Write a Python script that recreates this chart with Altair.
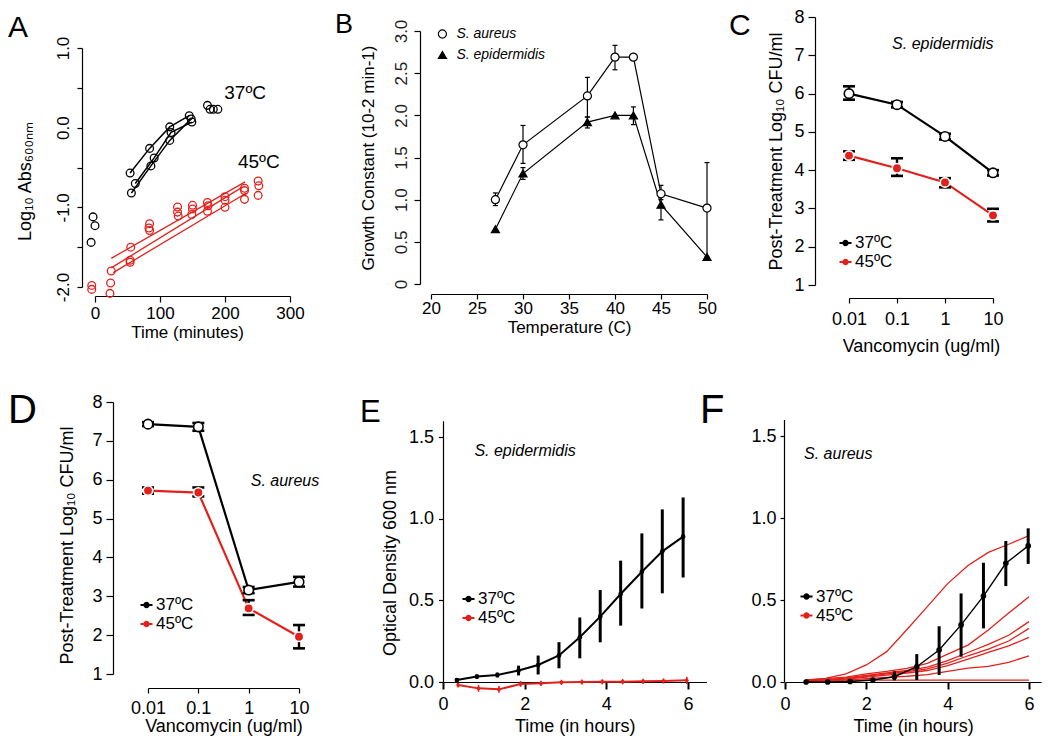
import altair as alt
import pandas as pd

FONT = "Liberation Sans"
RED = "#e3211c"

# ---------------- Panel A data ----------------
a37_rep = ["r1", "r1", "r1", "r1", "r2", "r2", "r2", "r2", "r3", "r3", "r3", "r3"]
a37_time = [54, 84, 115, 145, 62, 91, 117, 149, 56, 86, 115, 148]
a37_val = [-0.57, -0.26, 0.01, 0.15, -0.70, -0.38, -0.06, 0.07, -0.82, -0.48, -0.16, 0.11]
a37_other_time = [-3, 0, -6, 173, 177, 182, 189]
a37_other_val = [-1.12, -1.23, -1.44, 0.28, 0.23, 0.23, 0.23]
a45_time = [-5, -5, 23, 24, 25, 55, 54, 54, 84, 83, 84, 127, 127, 128, 150, 150, 149,
            173, 174, 173, 200, 200, 200, 230, 230, 230, 251, 252, 251]
a45_val = [-1.98, -2.03, -2.08, -1.95, -1.80, -1.50, -1.665, -1.69, -1.205, -1.26, -1.29,
           -0.996, -1.06, -1.11, -0.975, -1.02, -1.09, -0.94, -0.98, -1.05, -0.866, -0.91,
           -1.0, -0.76, -0.79, -0.9, -0.67, -0.73, -0.85]
a45_fit_rep = ["f1", "f1", "f2", "f2", "f3", "f3"]
a45_fit_time = [25, 231, 25, 226, 28, 233]
a45_fit_val = [-1.64, -0.68, -1.76, -0.75, -1.82, -0.82]
a_label_text = ["37ºC", "45ºC"]
a_label_time = [231, 252]
a_label_val = [0.43, -0.43]

# ---------------- Panel B data ----------------
b_species = ["S. aureus", "S. epidermidis"]
b_temp = [27, 30, 37, 40, 42, 45, 50]
b_aur = [1.0, 1.65, 2.23, 2.69, 2.69, 1.07, 0.90]
b_aur_lo = [0.93, 1.43, 1.98, 2.54, 2.69, 1.00, 0.28]
b_aur_hi = [1.08, 1.88, 2.45, 2.83, 2.69, 1.17, 1.44]
b_epi = [0.65, 1.31, 1.92, 2.0, 2.0, 0.94, 0.32]
b_epi_lo = [0.65, 1.24, 1.85, 2.0, 1.89, 0.76, 0.28]
b_epi_hi = [0.65, 1.38, 1.98, 2.0, 2.10, 1.04, 0.32]

# ---------------- Panels C / D data ----------------
temps = ["37ºC", "45ºC"]
vanco = [0.01, 0.1, 1, 10]
c37 = [6.0, 5.71, 4.88, 3.93]
c37_lo = [5.84, 5.64, 4.80, 3.86]
c37_hi = [6.19, 5.78, 4.95, 4.00]
c45 = [4.38, 4.05, 3.68, 2.82]
c45_lo = [4.27, 3.85, 3.55, 2.66]
c45_hi = [4.49, 4.31, 3.79, 2.99]
d37 = [7.43, 7.36, 3.16, 3.37]
d37_lo = [7.38, 7.26, 3.08, 3.25]
d37_hi = [7.48, 7.46, 3.24, 3.50]
d45 = [5.72, 5.67, 2.69, 1.96]
d45_lo = [5.64, 5.57, 2.52, 1.66]
d45_hi = [5.80, 5.80, 2.90, 2.26]

# ---------------- Panel E data ----------------
e37_t = [0.34, 0.83, 1.33, 1.85, 2.33, 2.84, 3.35, 3.85, 4.35, 4.87, 5.37, 5.88]
e37_v = [0.012, 0.033, 0.043, 0.07, 0.104, 0.163, 0.274, 0.40, 0.539, 0.675, 0.80, 0.89]
e37_lo = [0.0, 0.02, 0.028, 0.04, 0.046, 0.084, 0.145, 0.243, 0.345, 0.45, 0.543, 0.64]
e37_hi = [0.024, 0.046, 0.058, 0.10, 0.162, 0.244, 0.395, 0.563, 0.743, 0.91, 1.057, 1.13]
e45_t = [0.37, 0.87, 1.37, 1.9, 2.4, 2.9, 3.4, 3.9, 4.4, 4.9, 5.4, 5.97]
e45_v = [-0.018, -0.039, -0.045, -0.012, -0.008, -0.002, 0.0, 0.001, 0.002, 0.004, 0.006, 0.01]
e45_lo = [-0.034, -0.06, -0.066, -0.03, -0.024, -0.018, -0.016, -0.015, -0.014, -0.012, -0.01, -0.012]
e45_hi = [-0.004, -0.018, -0.024, 0.006, 0.008, 0.014, 0.016, 0.017, 0.018, 0.02, 0.022, 0.032]

# ---------------- Panel F data ----------------
f37_t = [0.52, 1.05, 1.6, 2.16, 2.69, 3.24, 3.79, 4.33, 4.88, 5.43, 5.98]
f37_v = [0.0, 0.0, 0.003, 0.012, 0.032, 0.093, 0.195, 0.348, 0.524, 0.724, 0.83]
f37_lo = [-0.005, -0.005, -0.004, 0.0, 0.01, 0.012, 0.043, 0.154, 0.327, 0.585, 0.72]
f37_hi = [0.005, 0.005, 0.01, 0.025, 0.065, 0.17, 0.34, 0.54, 0.727, 0.86, 0.937]
f45_t = [0.5, 1.0, 1.5, 2.0, 2.5, 3.0, 3.5, 4.0, 4.5, 5.0, 5.5, 6.0]
f45_r1 = [0.012, 0.022, 0.049, 0.104, 0.185, 0.32, 0.46, 0.60, 0.71, 0.79, 0.84, 0.892]
f45_r2 = [0.012, 0.02, 0.03, 0.05, 0.065, 0.083, 0.114, 0.17, 0.225, 0.317, 0.42, 0.52]
f45_r3 = [0.01, 0.015, 0.025, 0.04, 0.055, 0.07, 0.09, 0.13, 0.18, 0.23, 0.285, 0.368]
f45_r4 = [0.008, 0.012, 0.02, 0.035, 0.05, 0.063, 0.08, 0.115, 0.16, 0.2, 0.25, 0.327]
f45_r5 = [0.005, 0.01, 0.018, 0.03, 0.042, 0.055, 0.07, 0.1, 0.14, 0.18, 0.22, 0.272]
f45_r6 = [0.005, 0.008, 0.012, 0.02, 0.028, 0.035, 0.045, 0.065, 0.085, 0.095, 0.12, 0.16]
f45_r7 = [0.012, 0.012, 0.012, 0.012, 0.012, 0.012, 0.012, 0.012, 0.012, 0.012, 0.012, 0.012]

notes_text = ["S. epidermidis", "S. aureus", "S. epidermidis", "S. aureus"]
notes_x = [0.9, 5.27, 2.01, 1.31]
notes_y = [7.3, 5.97, 1.416, 1.39]

# every panel cell has the same size; axes are placed with scale ranges and offsets
CELL_W, CELL_H = 258, 288
NOVIEW = alt.ViewBackground(stroke=None, strokeWidth=0, fill=None)


# ---------------- helpers ----------------
def axis(title, values, **kw):
    d = dict(title=title, values=values, grid=False, domainColor="black", domainWidth=1.2,
             tickColor="black", tickWidth=1.2, labelColor="black", titleColor="black",
             labelFont=FONT, titleFont=FONT, labelFontSize=17, titleFontSize=17,
             titleFontWeight="normal", labelFlush=False, labelOverlap=False, minExtent=0,
             offset=0)
    d.update(kw)
    return alt.Axis(**d)


def yaxis_left(title, values, **kw):
    base = dict(titleAngle=270, titleBaseline="bottom", titleAlign="center")
    base.update(kw)
    return axis(title, values, **base)


def letter(t, dx, baseline_y, size):
    # a top title is lifted by its own height, so dy adds that height back
    return alt.TitleParams(t, anchor="start", frame="group", orient="top", font=FONT,
                           fontSize=size, fontWeight="normal", color="black", offset=0,
                           dx=dx, dy=baseline_y + size, baseline="alphabetic")


SYM = ("M-1,0L1,0M-0.36,0A0.36,0.36,0,1,0,0.36,0A0.36,0.36,0,1,0,-0.36,0"
       "M-0.15,0A0.15,0.15,0,1,0,0.15,0A0.15,0.15,0,1,0,-0.15,0")


def tlegend(lx, ly):
    return alt.Legend(title=None, orient="none", legendX=lx, legendY=ly, direction="vertical",
                      symbolType=SYM, symbolSize=144, symbolStrokeWidth=2, labelFont=FONT,
                      labelFontSize=17, labelColor="black", labelOffset=1, rowPadding=1,
                      padding=0, strokeColor="transparent", fillColor="transparent")


def lin(dom, rng):
    return alt.Scale(domain=dom, range=rng, nice=False, zero=False)


def logs(dom, rng):
    return alt.Scale(type="log", domain=dom, range=rng, nice=False)


def note(i, X, Y):
    df = pd.DataFrame({"x": [notes_x[i]], "y": [notes_y[i]], "t": [notes_text[i]]})
    return alt.Chart(df).mark_text(font=FONT, fontSize=16, fontStyle="italic", color="black",
                                   align="center", baseline="middle").encode(
        x=X("x"), y=Y("y"), text="t:N")


# ---------------- Panel A (cell origin 82, 8) ----------------
axA_x = axis("Time (minutes)", [0, 100, 200, 300], tickSize=6, labelPadding=3.7,
             titlePadding=3, titleX=105)
axA_y = yaxis_left("Log₁₀ Abs₆₀₀ₙₘ", [-2, -1.5, -1, -0.5, 0, 0.5, 1], tickSize=5,
                   labelPadding=4.8, labelAngle=270, labelAlign="center", labelBaseline="bottom",
                   labelExpr="datum.value % 1 == 0 ? (datum.value < 0 ? '-' : '') + abs(datum.value) + '.0' : ''",
                   titlePadding=19.5, titleY=173, titleFontSize=18)
scA_x = lin([0, 300], [13, 208])
scA_y = lin([-2, 1], [279, 40])
XA = lambda f="x": alt.X(f"{f}:Q", scale=scA_x, axis=axA_x)
YA = lambda f="y": alt.Y(f"{f}:Q", scale=scA_y, axis=axA_y)

dfA37 = pd.DataFrame({"x": a37_time, "y": a37_val, "rep": a37_rep})
dfA37all = pd.DataFrame({"x": a37_time + a37_other_time, "y": a37_val + a37_other_val})
dfA45 = pd.DataFrame({"x": a45_time, "y": a45_val})
dfA45fit = pd.DataFrame({"x": a45_fit_time, "y": a45_fit_val, "rep": a45_fit_rep})
dfAlab = pd.DataFrame({"x": a_label_time, "y": a_label_val, "t": a_label_text})

panelA = alt.layer(
    alt.Chart(dfA37).mark_line(color="black", strokeWidth=1.5).encode(x=XA(), y=YA(), detail="rep:N"),
    alt.Chart(dfA37all).mark_point(shape="circle", filled=False, color="black", size=60,
                                    strokeWidth=1.3, opacity=1).encode(x=XA(), y=YA()),
    alt.Chart(dfA45fit).mark_line(color=RED, strokeWidth=1.3).encode(x=XA(), y=YA(), detail="rep:N"),
    alt.Chart(dfA45).mark_point(shape="circle", filled=False, color=RED, size=60,
                                 strokeWidth=1.3, opacity=1).encode(x=XA(), y=YA()),
    alt.Chart(dfAlab).mark_text(font=FONT, fontSize=19, color="black", align="center",
                                baseline="middle").encode(x=XA(), y=YA(), text="t:N"),
).properties(width=CELL_W, height=CELL_H, title=letter("A", -74, 29, 30), view=NOVIEW)

# ---------------- Panel B (cell origin 433, 8) ----------------
axB_x = axis("Temperature (C)", [20, 25, 30, 35, 40, 45, 50], tickSize=5, labelPadding=1.7,
             titlePadding=3, offset=-2)
axB_y = yaxis_left("Growth Constant (10-2 min-1)", [0, 0.5, 1, 1.5, 2, 2.5, 3], tickSize=6,
                   labelPadding=4, labelAngle=270, labelAlign="center", labelBaseline="bottom",
                   labelExpr="datum.value == 0 ? '0' : format(datum.value, '.1f')",
                   titlePadding=15, labelColor="#222222", offset=13)
scB_x = lin([20, 50], [-2, 274])
scB_y = lin([0, 3], [276, 23])
XB = lambda f="x": alt.X(f"{f}:Q", scale=scB_x, axis=axB_x)
YB = lambda f="y": alt.Y(f"{f}:Q", scale=scB_y, axis=axB_y)

dfB = pd.DataFrame({
    "x": b_temp + b_temp,
    "y": b_aur + b_epi,
    "lo": b_aur_lo + b_epi_lo,
    "hi": b_aur_hi + b_epi_hi,
    "sp": [b_species[0]] * len(b_temp) + [b_species[1]] * len(b_temp),
})
dfBerr = dfB[dfB["hi"] > dfB["lo"]]
bleg = alt.Legend(title=None, orient="none", legendX=2.4, legendY=19, direction="vertical",
                  symbolSize=65, symbolStrokeWidth=1.2, labelFont=FONT, labelFontSize=14,
                  labelFontStyle="italic", labelColor="black", labelOffset=7, rowPadding=7,
                  padding=0, strokeColor="transparent", fillColor="transparent")
panelB = alt.layer(
    alt.Chart(dfB).mark_line(color="black", strokeWidth=1.2).encode(x=XB(), y=YB(), detail="sp:N"),
    alt.Chart(dfBerr).mark_rule(color="black", strokeWidth=1.2).encode(x=XB(), y=YB("lo"), y2="hi:Q"),
    alt.Chart(dfBerr).mark_tick(orient="horizontal", size=5, thickness=1.2, color="black",
                                opacity=1).encode(x=XB(), y=YB("lo")),
    alt.Chart(dfBerr).mark_tick(orient="horizontal", size=5, thickness=1.2, color="black",
                                opacity=1).encode(x=XB(), y=YB("hi")),
    alt.Chart(dfB).mark_point(filled=True, size=65, strokeWidth=1.2, opacity=1).encode(
        x=XB(), y=YB(),
        shape=alt.Shape("sp:N", scale=alt.Scale(domain=b_species, range=["circle", "triangle-up"]), legend=bleg),
        fill=alt.Fill("sp:N", scale=alt.Scale(domain=b_species, range=["white", "black"]), legend=bleg),
        stroke=alt.Stroke("sp:N", scale=alt.Scale(domain=b_species, range=["black", "black"]), legend=bleg),
    ),
).properties(width=CELL_W, height=CELL_H, title=letter("B", -98, 25, 27), view=NOVIEW)


# ---------------- Panels C / D ----------------
def cfu_panel(v37, lo37, hi37, v45, lo45, hi45, xrng, yrng, yoff, xoff, legxy, noteidx,
              title, ytitlepad, ytitleY, xlabpad, xtitlepad):
    axx = axis("Vancomycin (ug/ml)", vanco, format="~g", tickSize=5, labelPadding=xlabpad,
               titlePadding=xtitlepad, labelFontSize=18, titleFontSize=18, offset=xoff)
    yk = dict(tickSize=7, labelPadding=4, labelFontSize=18, titleFontSize=18,
              titlePadding=ytitlepad, offset=yoff)
    if ytitleY is not None:
        yk["titleY"] = ytitleY
    axy = yaxis_left("Post-Treatment Log₁₀ CFU/ml", [1, 2, 3, 4, 5, 6, 7, 8], format="d", **yk)
    scx = logs([0.01, 10], xrng)
    scy = lin([1, 8], yrng)
    X = lambda f="x": alt.X(f"{f}:Q", scale=scx, axis=axx)
    Y = lambda f="y": alt.Y(f"{f}:Q", scale=scy, axis=axy)
    df = pd.DataFrame({
        "x": vanco + vanco,
        "y": v37 + v45,
        "lo": lo37 + lo45,
        "hi": hi37 + hi45,
        "temp": [temps[0]] * 4 + [temps[1]] * 4,
    })
    return alt.layer(
        alt.Chart(df).mark_line(strokeWidth=2.2).encode(
            x=X(), y=Y(),
            color=alt.Color("temp:N", scale=alt.Scale(domain=temps, range=["black", RED]),
                            legend=tlegend(*legxy))),
        alt.Chart(df).mark_rule(color="black", strokeWidth=2.4).encode(x=X(), y=Y("lo"), y2="hi:Q"),
        alt.Chart(df).mark_tick(orient="horizontal", size=12, thickness=2.6, color="black",
                                opacity=1).encode(x=X(), y=Y("lo")),
        alt.Chart(df).mark_tick(orient="horizontal", size=12, thickness=2.6, color="black",
                                opacity=1).encode(x=X(), y=Y("hi")),
        alt.Chart(df).mark_point(filled=True, size=90, strokeWidth=1.6, opacity=1, shape="circle").encode(
            x=X(), y=Y(),
            fill=alt.Fill("temp:N", scale=alt.Scale(domain=temps, range=["white", RED]), legend=None),
            stroke=alt.Stroke("temp:N", scale=alt.Scale(domain=temps, range=["black", "white"]), legend=None)),
        note(noteidx, X, Y),
    ).properties(width=CELL_W, height=CELL_H, title=title, view=NOVIEW)


# C cell origin (784, 8); D cell origin (82, 393)
panelC = cfu_panel(c37, c37_lo, c37_hi, c45, c45_lo, c45_hi, [65, 209], [277, 9], -31, 2,
                   (53, 226.5), 0, letter("C", -55, 27, 30), 8.8, None, 7.2, 9)
panelD = cfu_panel(d37, d37_lo, d37_hi, d45, d45_lo, d45_hi, [66, 217], [281, 9], -31, 7,
                   (56, 203.5), 1, letter("D", -74, 30, 40), 15.5, 152, 6.2, 0)


# ---------------- Panels E / F ----------------
def od_axes(ytitle, yoff, xoff, ytitlepad, ytitleY, ylabpad, ytick, xlabpad, xtitlepad):
    axx = axis("Time (in hours)", [0, 2, 4, 6], tickSize=7, tickWidth=2, labelPadding=xlabpad,
               titlePadding=xtitlepad, labelFontSize=18, titleFontSize=18, offset=xoff)
    yk = dict(format=".1f", tickSize=ytick, labelPadding=ylabpad, labelFontSize=18,
              titleFontSize=18, titlePadding=ytitlepad, offset=yoff)
    if ytitleY is not None:
        yk["titleY"] = ytitleY
    axy = yaxis_left(ytitle, [0, 0.5, 1.0, 1.5], **yk)
    return axx, axy


# E cell origin (433, 393)
axE_x, axE_y = od_axes("Optical Density 600 nm", -10, 1, 9, 169.5, 5, 4.5, 6.2, 4)
scE_x = lin([0, 6.45], [10, 273.4])
scE_y = lin([0, 1.6], [289, 27.7])
XE = lambda f="x": alt.X(f"{f}:Q", scale=scE_x, axis=axE_x)
YE = lambda f="y": alt.Y(f"{f}:Q", scale=scE_y, axis=axE_y)
colE = lambda: alt.Color("temp:N", scale=alt.Scale(domain=temps, range=["black", RED]),
                         legend=tlegend(27, 197.5))
dfE37 = pd.DataFrame({"x": e37_t, "y": e37_v, "lo": e37_lo, "hi": e37_hi, "temp": temps[0]})
dfE45 = pd.DataFrame({"x": e45_t, "y": e45_v, "lo": e45_lo, "hi": e45_hi, "temp": temps[1]})
panelE = alt.layer(
    alt.Chart(dfE45).mark_line(strokeWidth=2).encode(x=XE(), y=YE(), color=colE()),
    alt.Chart(dfE45).mark_rule(color=RED, strokeWidth=1.6).encode(x=XE(), y=YE("lo"), y2="hi:Q"),
    alt.Chart(dfE45).mark_point(filled=True, size=14, color=RED, opacity=1).encode(x=XE(), y=YE()),
    alt.Chart(dfE37).mark_line(strokeWidth=2).encode(x=XE(), y=YE(), color=colE()),
    alt.Chart(dfE37).mark_rule(color="black", strokeWidth=3).encode(x=XE(), y=YE("lo"), y2="hi:Q"),
    alt.Chart(dfE37).mark_point(filled=True, size=22, color="black", opacity=1).encode(x=XE(), y=YE()),
    note(2, XE, YE),
).properties(width=CELL_W, height=CELL_H, title=letter("E", -73, 29, 31), view=NOVIEW)

# F cell origin (784, 393)
axF_x, axF_y = od_axes(None, 0, 1, 0, None, 4, 4, 6.7, 4)
scF_x = lin([0, 6.3], [1, 257.2])
scF_y = lin([0, 1.6], [289, 26.6])
XF = lambda f="x": alt.X(f"{f}:Q", scale=scF_x, axis=axF_x)
YF = lambda f="y": alt.Y(f"{f}:Q", scale=scF_y, axis=axF_y)
colF = lambda: alt.Color("temp:N", scale=alt.Scale(domain=temps, range=["black", RED]),
                         legend=tlegend(14, 195))
f_lines = [f45_r1, f45_r2, f45_r3, f45_r4, f45_r5, f45_r6, f45_r7]
rows = []
for k, series in enumerate(f_lines):
    for t, v in zip(f45_t, series):
        rows.append({"x": t, "y": v, "rep": f"r{k + 1}", "temp": temps[1]})
dfF45 = pd.DataFrame(rows)
dfF37 = pd.DataFrame({"x": f37_t, "y": f37_v, "lo": f37_lo, "hi": f37_hi, "temp": temps[0]})
panelF = alt.layer(
    alt.Chart(dfF45).mark_line(strokeWidth=1.3).encode(x=XF(), y=YF(), color=colF(), detail="rep:N"),
    alt.Chart(dfF37).mark_line(strokeWidth=1.4).encode(x=XF(), y=YF(), color=colF()),
    alt.Chart(dfF37).mark_rule(color="black", strokeWidth=3).encode(x=XF(), y=YF("lo"), y2="hi:Q"),
    alt.Chart(dfF37).mark_point(filled=True, size=32, color="black", opacity=1).encode(x=XF(), y=YF()),
    note(3, XF, YF),
).properties(width=CELL_W, height=CELL_H, title=letter("F", -84, 30, 40), view=NOVIEW)

chart = alt.concat(
    panelA, panelB, panelC, panelD, panelE, panelF,
    columns=3, spacing={"row": 97, "column": 93}, bounds="flush", align="all",
).resolve_scale(
    x="independent", y="independent", color="independent", fill="independent",
    stroke="independent", shape="independent",
).resolve_legend(
    color="independent", fill="independent", stroke="independent", shape="independent",
).properties(padding=0).configure_view(stroke=None, strokeWidth=0).configure_axis(
    grid=False).configure(font=FONT)

chart.save("out.html", embed_options={"renderer": "svg", "actions": False})
